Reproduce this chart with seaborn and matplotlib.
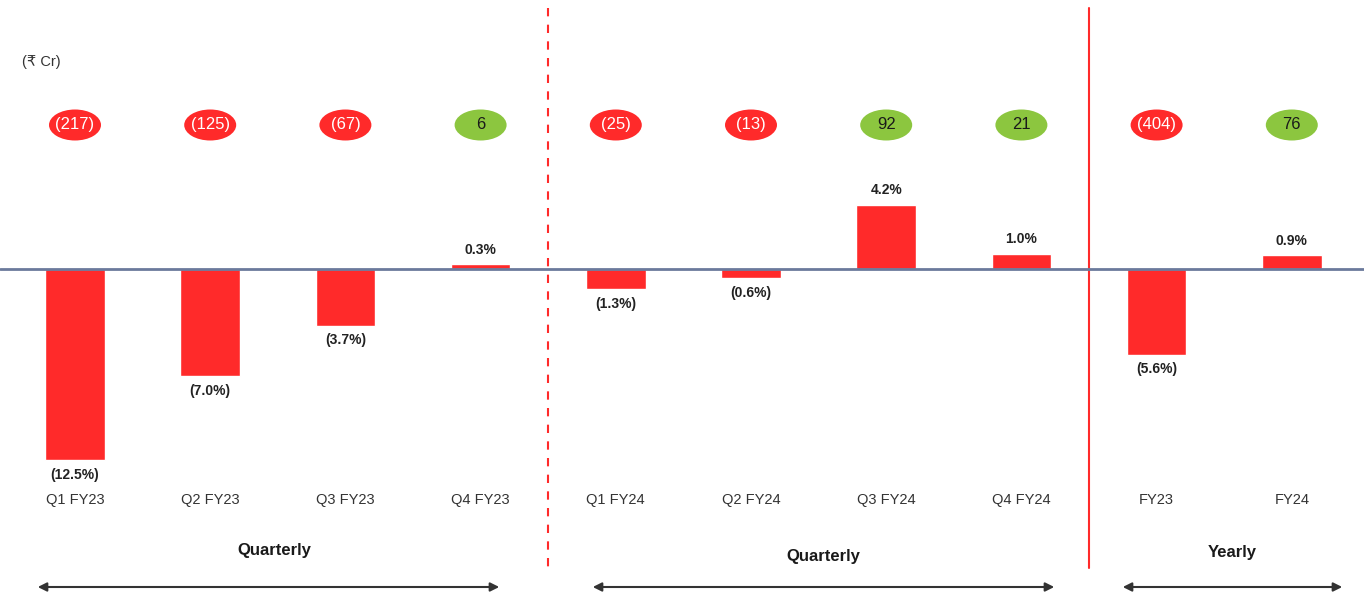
import matplotlib
matplotlib.use("Agg")
import matplotlib.pyplot as plt
from matplotlib.patches import Ellipse
import seaborn as sns
import pandas as pd

# data
periods = ["Q1 FY23", "Q2 FY23", "Q3 FY23", "Q4 FY23",
           "Q1 FY24", "Q2 FY24", "Q3 FY24", "Q4 FY24",
           "FY23", "FY24"]
margin_pct = [-12.5, -7.0, -3.7, 0.3, -1.3, -0.6, 4.2, 1.0, -5.6, 0.9]
amount_cr = [-217, -125, -67, 6, -25, -13, 92, 21, -404, 76]
groups = ["Quarterly", "Quarterly", "Yearly"]

RED = "#ff2a2a"
GREEN = "#8cc63f"

sns.set_style("white")
plt.rcParams["font.family"] = ["Liberation Sans", "DejaVu Sans"]

df = pd.DataFrame({"period": periods, "margin": margin_pct})

fig = plt.figure(figsize=(13.64, 5.96), dpi=100)
ax = fig.add_axes([0, 0, 1, 1])

sns.barplot(data=df, x="period", y="margin", color=RED, saturation=1,
            width=0.44, ax=ax, zorder=2)

# pixel-ish layout helpers: 135.2 px per category, 15.3 px per %
def ypx(p):
    return (269 - p) / 15.3

def xpx(p):
    return (p - 75) / 135.2

ax.set_xlim(xpx(0), xpx(1364))
ax.set_ylim(ypx(596), ypx(0))
ax.axis("off")

ax.axhline(0, color="#6b7a9c", lw=2, zorder=3)

# divider lines
ax.plot([3.5, 3.5], [ypx(8), ypx(568)], color=RED, lw=1.5, ls=(0, (4, 4)))
ax.plot([7.5, 7.5], [ypx(8), ypx(568)], color=RED, lw=1.5)

for i, (m, a) in enumerate(zip(margin_pct, amount_cr)):
    # percent labels
    lab = f"({abs(m):.1f}%)" if m < 0 else f"{m:.1f}%"
    if m < 0:
        ax.text(i, m - 0.5, lab, ha="center", va="top", fontsize=10,
                fontweight="bold", color="#222222")
    else:
        ax.text(i, m + 0.5, lab, ha="center", va="bottom", fontsize=10,
                fontweight="bold", color="#222222")
    # amount ellipses
    fc = RED if a < 0 else GREEN
    ax.add_patch(Ellipse((i, ypx(125)), 52 / 135.2, 31 / 15.3, fc=fc,
                         ec="none", zorder=4))
    txt = f"({abs(a)})" if a < 0 else f"{a}"
    ax.text(i, ypx(125), txt, ha="center", va="center", fontsize=12,
            color="white" if a < 0 else "#1a1a1a", zorder=5)
    # category label
    ax.text(i, ypx(500), periods[i], ha="center", va="center",
            fontsize=10.5, color="#333333")

ax.text(xpx(22), ypx(62), "(₹ Cr)", ha="left", va="center", fontsize=10.5,
        color="#333333")

# group labels and arrows
group_x = [274, 823, 1232]
group_y = [551, 557, 553]
arrows = [(35, 502), (590, 1057), (1120, 1345)]
for g, gx, gy, (a0, a1) in zip(groups, group_x, group_y, arrows):
    ax.text(xpx(gx), ypx(gy), g, ha="center", va="center", fontsize=12,
            fontweight="bold", color="#1a1a1a")
    ax.annotate("", xy=(xpx(a1), ypx(587)), xytext=(xpx(a0), ypx(587)),
                arrowprops=dict(arrowstyle="<|-|>", color="#333333", lw=1.5,
                                mutation_scale=13))

fig.savefig("out.png", dpi=100)
